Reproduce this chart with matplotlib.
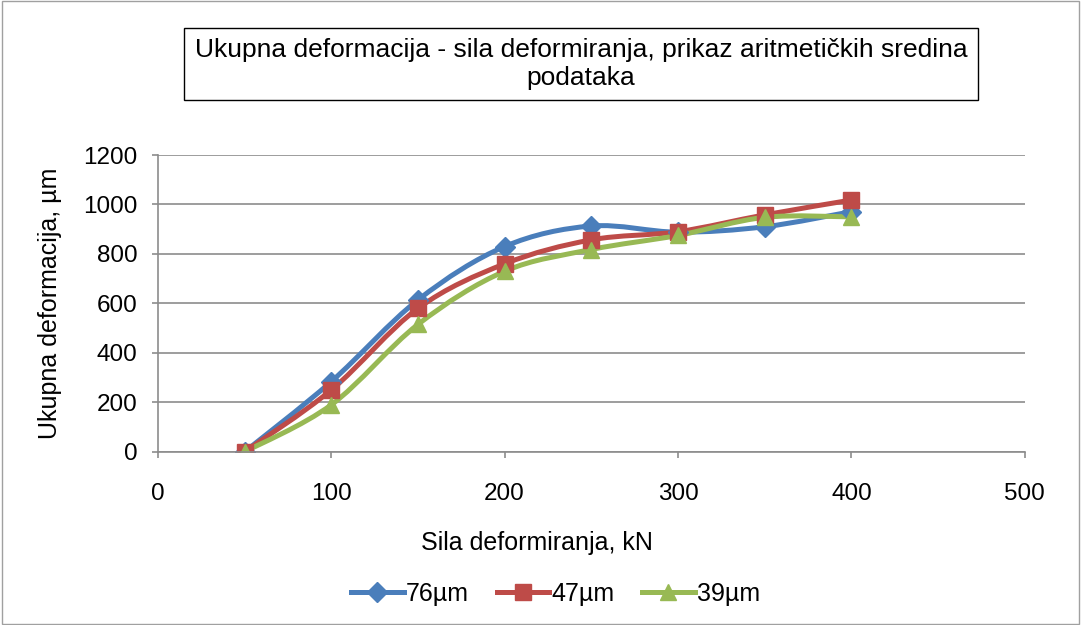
import numpy as np
import matplotlib
matplotlib.use('Agg')
import matplotlib.pyplot as plt
from matplotlib.path import Path
from matplotlib.patches import PathPatch, Rectangle
from matplotlib.lines import Line2D

plt.rcParams['font.family'] = ['Liberation Sans', 'DejaVu Sans']

# data
sila = [50, 100, 150, 200, 250, 300, 350, 400]
d76 = [0, 284, 614, 830, 913, 888, 910, 971]
d47 = [0, 250, 580, 760, 857, 890, 958, 1018]
d39 = [0, 190, 515, 730, 818, 875, 948, 950]

series = [('76µm', d76, '#4A7EBB', 'D', 10),
          ('47µm', d47, '#BE4B48', 's', 11),
          ('39µm', d39, '#98B954', '^', 12)]


def smooth_path(x, y):
    # Excel-style smoothed line: cubic bezier through points (tension 1/6)
    pts = np.column_stack([x, y]).astype(float)
    n = len(pts)
    verts = [pts[0]]
    codes = [Path.MOVETO]
    for i in range(n - 1):
        p0 = pts[i - 1] if i > 0 else pts[i]
        p1 = pts[i]
        p2 = pts[i + 1]
        p3 = pts[i + 2] if i + 2 < n else pts[i + 1]
        c1 = p1 + (p2 - p0) / 6.0
        c2 = p2 - (p3 - p1) / 6.0
        verts += [c1, c2, p2]
        codes += [Path.CURVE4] * 3
    return Path(verts, codes)


fig = plt.figure(figsize=(10.81, 6.25), dpi=100)
fig.patches.append(Rectangle((0.002, 0.002), 0.996, 0.996, transform=fig.transFigure,
                             fill=False, edgecolor='#A0A0A0', linewidth=1))
ax = fig.add_axes([0.146, 0.277, 0.802, 0.475])

for name, vals, col, mk, ms in series:
    ax.add_patch(PathPatch(smooth_path(sila, vals), fill=False, edgecolor=col,
                           linewidth=3.6, capstyle='round', joinstyle='round'))
    ax.plot(sila, vals, linestyle='none', marker=mk, color=col, markersize=ms)

ax.set_xlim(0, 500)
ax.set_ylim(0, 1200)
ax.set_xticks(np.arange(0, 501, 100))
ax.set_yticks(np.arange(0, 1201, 200))
ax.yaxis.grid(True, color='#8C8C8C', linewidth=1.2)
ax.set_axisbelow(True)
for s in ['top', 'right']:
    ax.spines[s].set_visible(False)
for s in ['left', 'bottom']:
    ax.spines[s].set_color('#8C8C8C')
    ax.spines[s].set_linewidth(1.2)
ax.tick_params(axis='both', colors='#8C8C8C', labelcolor='black', labelsize=17.5,
               length=4.5, width=1.2)
ax.tick_params(axis='x', pad=18)
ax.tick_params(axis='y', pad=10)
ax.set_xlabel('Sila deformiranja, kN', fontsize=18, va='center')
ax.xaxis.set_label_coords(0.437, -0.306)
ax.set_ylabel('Ukupna deformacija, µm', fontsize=18, va='center')
ax.yaxis.set_label_coords(-0.124, 0.5)

fig.text(0.5375, 0.8976, 'Ukupna deformacija - sila deformiranja, prikaz aritmetičkih sredina\npodataka',
         ha='center', va='center', fontsize=19, linespacing=1.2,
         bbox=dict(boxstyle='square,pad=0.4', facecolor='white', edgecolor='black', linewidth=1))

handles = [Line2D([], [], color=col, marker=mk, markersize=ms, linewidth=3.6)
           for name, vals, col, mk, ms in series]
fig.legend(handles, [s[0] for s in series], loc='center', bbox_to_anchor=(0.514, 0.05),
           ncol=3, frameon=False, fontsize=18, handlelength=2.1, handletextpad=0.1,
           columnspacing=1.1)

fig.savefig('out.png', dpi=100)
